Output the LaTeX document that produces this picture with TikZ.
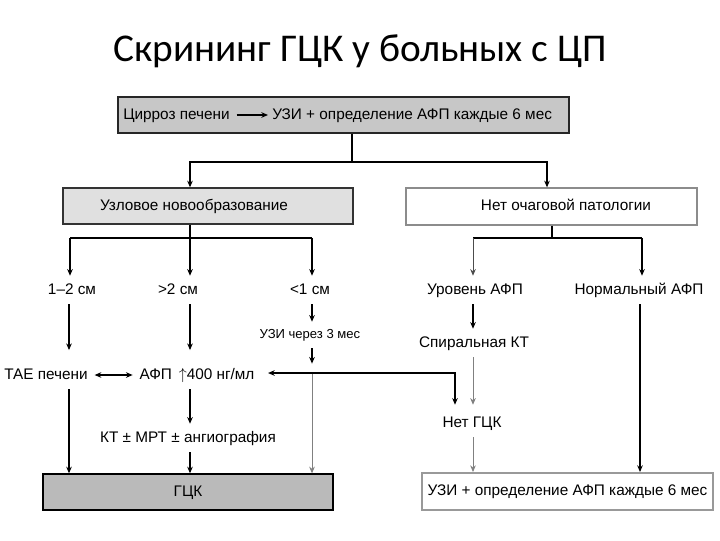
\documentclass[tikz,border=0pt]{standalone}
\usepackage{fontspec}
\setmainfont{Liberation Sans}
\newfontfamily\titlefont{Carlito}
\usetikzlibrary{arrows.meta}
\begin{document}
\begin{tikzpicture}[x=0.75pt,y=-0.75pt,
  ln/.style={line width=1.1pt, draw=black},
  thinln/.style={line width=0.6pt, draw=black!50},
  arr/.style={-{Stealth[length=5pt,width=4.2pt]}},
  darr/.style={{Stealth[length=5pt,width=4.2pt]}-{Stealth[length=5pt,width=4.2pt]}},
  txt/.style={font=\fontsize{11.5}{13}\selectfont, inner xsep=5pt, inner ysep=5pt, text height=8.5pt, text depth=2.5pt},
  smtxt/.style={font=\fontsize{9.8}{11}\selectfont, inner xsep=3pt, inner ysep=5pt, text height=7.3pt, text depth=2.2pt},
  box/.style={minimum height=27pt, inner sep=0pt, font=\fontsize{11.5}{13}\selectfont, text height=8.5pt, text depth=2.5pt},
]
\useasboundingbox[fill=white] (0,0) rectangle (720,540);

% title
\node[font=\titlefont\fontsize{29.5}{33}\selectfont, anchor=base] (title) at (360,61) {Скрининг ГЦК у больных с ЦП};

% boxes
\node[box, draw=black!85, fill=black!22, line width=1.1pt, minimum width=338.25pt] (top) at (343.5,115) {};
\node[txt, anchor=west, inner xsep=0pt] (cirr) at (123,115) {Цирроз печени};
\node[txt, anchor=west, inner xsep=0pt] (uzi) at (272,115) {УЗИ + определение АФП каждые 6 мес};
\draw[ln, arr] ([xshift=5pt]cirr.east) -- ([xshift=-3pt]uzi.west);

\node[box, draw=black!80, fill=black!12, line width=1pt, minimum width=217.5pt] (nod) at (208,206) {};
\node[txt] (nodt) at (194,206) {Узловое новообразование};

\node[box, draw=black!45, fill=white, line width=1pt, minimum width=218.25pt, minimum height=27.75pt] (nof) at (551.5,206.5) {};
\node[txt] (noft) at (566,206) {Нет очаговой патологии};

\node[box, draw=black, fill=black!27, line width=1pt, minimum width=217.5pt] (gck) at (188,492) {ГЦК};
\node[box, draw=black!40, fill=white, line width=1.5pt, minimum width=218.25pt, minimum height=27.75pt] (usb) at (567.5,491.5) {УЗИ + определение АФП каждые 6 мес};

% labels
\node[txt] (s12) at (72,290) {1–2 см};
\node[txt] (s2) at (178,290) {>2 см};
\node[txt] (s1) at (310,290) {<1 см};
\node[txt] (lvl) at (475,290) {Уровень АФП};
\node[txt] (norm) at (639,290) {Нормальный АФП};

\node[smtxt] (uzi3) at (310,335) {УЗИ через 3 мес};
\node[txt] (spir) at (474,343) {Спиральная КТ};
\node[txt] (tae) at (46,375) {ТАЕ печени};
\node[txt] (afp) at (197,375) {АФП \,$\uparrow$400 нг/мл};
\node[txt] (kt) at (188,438) {КТ ± МРТ ± ангиография};
\node[txt] (net) at (472,423) {Нет ГЦК};

% column coordinates
\coordinate (xa) at (69,0);
\coordinate (xb) at (190,0);
\coordinate (xc) at (312,0);
\coordinate (xd) at (473,0);
\coordinate (xe) at (640,0);
\coordinate (xf) at (455,0);

% top split
\coordinate (tj) at (352,162);
\coordinate (tl) at (190,162);
\coordinate (tr) at (547,162);
\draw[ln] (tj |- top.south) -- (tj);
\draw[ln, arr] (tj) -- (tl) -- (tl |- nod.north);
\draw[ln, arr] (tj) -- (tr) -- (tr |- nof.north);

% nodule split
\coordinate (lj) at (190,238);
\coordinate (l1) at (70,238);
\coordinate (l3) at (312,238);
\draw[ln] (lj |- nod.south) -- (lj);
\draw[ln] (l1) -- (l3);
\draw[ln, arr] (l1) -- (l1 |- s12.north);
\draw[ln, arr] (lj) -- (lj |- s2.north);
\draw[ln, line width=0.8pt, arr] (l3) -- (l3 |- s1.north);

% no focal split
\coordinate (rj) at (552,238);
\coordinate (r1) at (473,238);
\coordinate (r2) at (642,238);
\draw[ln] (rj |- nof.south) -- (rj);
\draw[ln] (r1) -- (r2);
\draw[ln, line width=0.7pt, draw=black!70, arr] (r1) -- (r1 |- lvl.north);
\draw[ln, arr] (r2) -- (r2 |- norm.north);

% left column
\draw[ln, arr, shorten >=8pt] (xa |- s12.south) -- (xa |- tae.north);
\draw[ln, arr] (xa |- tae.south) -- (xa |- gck.north);
\draw[darr, ln] (tae.east) -- (afp.west);

% middle column
\draw[ln, arr, shorten >=8pt] (xb |- s2.south) -- (xb |- afp.north);
\draw[ln, arr] (xb |- afp.south) -- (xb |- kt.north);
\draw[ln, arr] (xb |- kt.south) -- (xb |- gck.north);

% <1 cm column
\coordinate (c3) at (312,373);
\draw[ln, line width=0.9pt, arr] (xc |- s1.south) -- (xc |- uzi3.north);
\draw[ln, line width=0.9pt, arr, shorten >=7pt] (xc |- uzi3.south) -- (c3);
\draw[thinln, arr] (c3) -- (xc |- gck.north);

% right side
\draw[ln, arr] (xd |- lvl.south) -- (xd |- spir.north);
\draw[thinln, arr, shorten >=3pt] (xd |- spir.south) -- (xd |- net.north);
\draw[ln, darr, shorten >=5pt, shorten <=3pt] (xf |- net.north) -- (xf |- c3) -- (c3 -| afp.east);
\draw[thinln, arr] (xd |- net.south) -- (xd |- usb.north);
\draw[ln, arr] (xe |- norm.south) -- (xe |- usb.north);
\end{tikzpicture}
\end{document}
